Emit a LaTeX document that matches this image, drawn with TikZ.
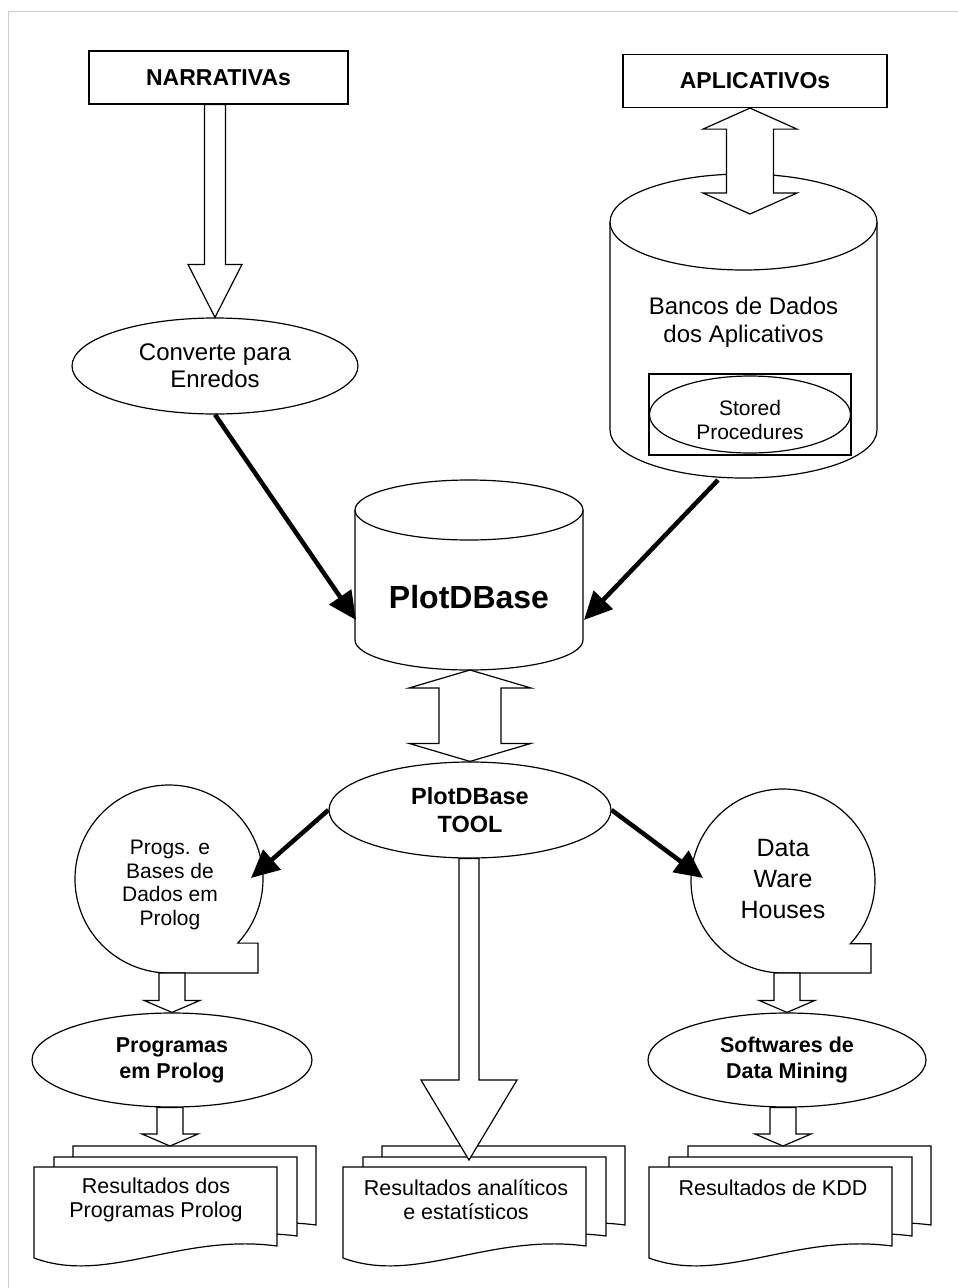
\documentclass[tikz,border=0pt]{standalone}
\usepackage{fontspec}
\setmainfont{Liberation Sans}
\usetikzlibrary{calc,arrows.meta,shapes.geometric}

\newcommand{\dbcylinder}[5]{% cx, top y, bottom y, rx, ry
  \draw[fill=white] (#1-#4,#2) -- (#1-#4,#3) arc[start angle=180,end angle=0,x radius=#4,y radius=#5] -- (#1+#4,#2);
  \draw[fill=white] (#1,#2) ellipse[x radius=#4,y radius=#5];}
\newcommand{\seqstore}[5]{% cx, cy, r, tail angle, tail x
  \draw[fill=white] ($(#1,#2)+(#4:#3)$) arc[start angle=#4,end angle=-270,radius=#3] -- (#5,#2+#3) -- (#5,{#2+#3*sin(#4)}) -- cycle;}
\newcommand{\blockdown}[5]{% from, tip, shaft, head, head length
  \draw[fill=white] ($(#2|-#1)+(-#3,0)$) -- ($(#2)+(-#3,-#5)$) -- ($(#2)+(-#4,-#5)$) -- (#2) -- ($(#2)+(#4,-#5)$) -- ($(#2)+(#3,-#5)$) -- ($(#2|-#1)+(#3,0)$) -- cycle;}
\newcommand{\blockboth}[5]{% upper tip, lower tip, shaft, head, head length
  \draw[fill=white] (#2|-#1) -- ($(#2|-#1)+(#4,#5)$) -- ($(#2|-#1)+(#3,#5)$) -- ($(#2)+(#3,-#5)$) -- ($(#2)+(#4,-#5)$) -- (#2) -- ($(#2)+(-#4,-#5)$) -- ($(#2)+(-#3,-#5)$) -- ($(#2|-#1)+(-#3,#5)$) -- ($(#2|-#1)+(-#4,#5)$) -- cycle;}

\tikzset{pics/docstack/.style={code={
  \foreach \dx/\dy in {39/-21,20/-10,0/0}
    \draw[fill=white,shift={(\dx,\dy)}] (0,0) -- (243,0) -- (243,79) .. controls (146,66) and (73,118) .. (0,91) -- cycle;
}}}

\begin{document}
\begin{tikzpicture}[x=1pt,y=-1pt,line width=1.2pt,
  box/.style={draw,fill=white,inner sep=0,minimum height=53,font=\bfseries\fontsize{23}{27}\selectfont},
  oval/.style={draw,fill=white,ellipse,inner sep=0,align=center},
  txt/.style={align=center,inner sep=0},
  fat/.style={line width=4.5pt,-{Triangle[length=28pt,width=26pt]}}]
\useasboundingbox (0,0) rectangle (958,1288);
\draw[black!20,line width=1pt] (8,1288) -- (8,11) -- (958,11);

\node[box,minimum width=259] (narr) at (218.5,77.5) {NARRATIVAs};
\node[box,minimum width=264] (apl) at (755,81) {APLICATIVOs};
\node[oval,minimum width=286,minimum height=96,font=\fontsize{24}{27}\selectfont] (conv) at (215,366) {Converte para\\Enredos};
\blockdown{narr.south}{conv.north}{10.5}{27}{53}

% bancos de dados
\dbcylinder{743.5}{222}{430}{133.5}{48}
\node[txt,font=\fontsize{24}{28}\selectfont] (bancos) at (743.5,322) {Bancos de Dados\\dos Aplicativos};
\node[draw,inner sep=0,minimum width=202,minimum height=81] (spbox) at (750,414.5) {};
\node[oval,minimum width=201,minimum height=77] (stored) at (750,414.5) {};
\node[txt,font=\fontsize{21}{24}\selectfont] (storedtxt) at (750,420) {Stored\\Procedures};
\coordinate (bancostop) at (750,214);
\blockboth{apl.south}{bancostop}{23.5}{47}{21}

% plotdbase
\dbcylinder{469}{510}{640}{114}{30}
\node[txt,font=\bfseries\fontsize{32}{36}\selectfont] (plotdb) at (469,597) {PlotDBase};
\coordinate (plotL) at (356,620);
\coordinate (plotR) at (584,620);
\coordinate (bancosbot) at (718,480);
\draw[fat] (conv.south) -- (plotL);
\draw[fat] (bancosbot) -- (plotR);

\node[oval,minimum width=282,minimum height=96,font=\bfseries\fontsize{23.5}{28}\selectfont] (tool) at (470,810) {PlotDBase\\TOOL};
\coordinate (plotbot) at (469,670);
\blockboth{plotbot}{tool.north}{31}{61}{18}

% left column
\seqstore{169}{879}{94}{43}{258}
\node[txt,font=\fontsize{21}{23.5}\selectfont] (progs) at (170,885) {Progs. e\\Bases de\\Dados em\\Prolog};
\node[oval,minimum width=280,minimum height=94,font=\bfseries\fontsize{21.5}{26}\selectfont] (prog) at (172,1060) {Programas\\em Prolog};
\coordinate (progsbot) at (170,973);
\blockdown{progsbot}{prog.north}{13}{28}{12}
\pic at (34,1167) {docstack};
\node[txt,font=\fontsize{21.5}{24}\selectfont] (resL) at (156,1200) {Resultados dos\\Programas Prolog};
\coordinate (docL) at (170,1146);
\blockdown{prog.south}{docL}{13}{28}{12}
\coordinate (progsin) at (251,878);
\draw[fat] (tool.west) -- (progsin);

% right column
\seqstore{783}{881}{92}{43}{871}
\node[txt,font=\fontsize{25}{31}\selectfont] (dwh) at (783,879) {Data\\Ware\\Houses};
\node[oval,minimum width=278,minimum height=94,font=\bfseries\fontsize{21.5}{26}\selectfont] (soft) at (787,1060) {Softwares de\\Data Mining};
\coordinate (dwhbot) at (783,973);
\blockdown{dwhbot}{soft.north}{13}{28}{12}
\pic at (649,1167) {docstack};
\node[txt,font=\fontsize{21.5}{24}\selectfont] (resR) at (773,1188) {Resultados de KDD};
\coordinate (docR) at (783,1146);
\blockdown{soft.south}{docR}{13}{28}{12}
\coordinate (dwhin) at (703,878);
\draw[fat] (tool.east) -- (dwhin);

% middle column
\pic at (343,1167) {docstack};
\node[txt,font=\fontsize{21.5}{24}\selectfont] (resM) at (466,1200) {Resultados analíticos\\e estatísticos};
\coordinate (docM) at (469,1160);
\blockdown{tool.south}{docM}{10}{48}{80}
\end{tikzpicture}
\end{document}
